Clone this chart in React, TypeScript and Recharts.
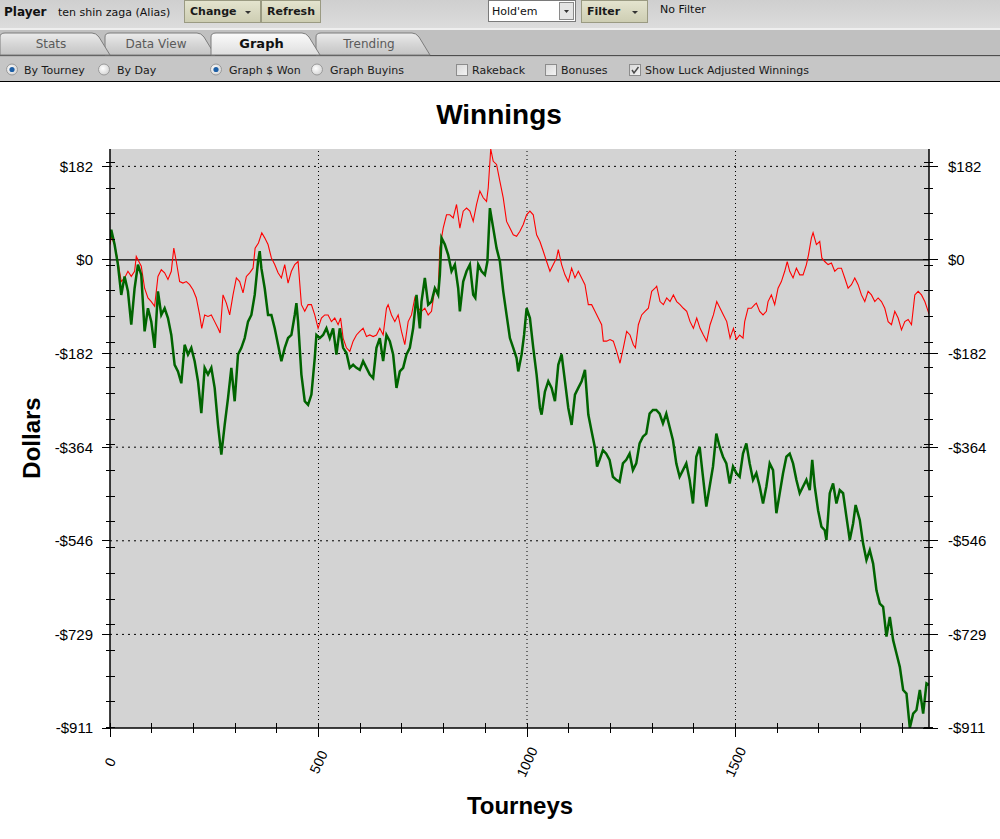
import React from 'react';
import { LineChart, Line, XAxis, YAxis, ReferenceLine, CartesianGrid } from 'recharts';

// [tourney, dollars] — luck adjusted winnings (green)
const luckAdjusted: [number, number][] = [
  [0, 40], [3, 59], [11, 30], [19, -9], [27, -68], [35, -32], [43, -61], [51, -126], [59, -55], [67, -9],
  [75, -29], [83, -139], [91, -94], [99, -120], [107, -171], [115, -61], [123, -107], [131, -94], [139, -113], [147, -146],
  [155, -204], [163, -217], [171, -240], [179, -165], [187, -184], [195, -171], [203, -197], [211, -236], [219, -298], [227, -210],
  [235, -223], [243, -210], [251, -249], [259, -321], [267, -379], [275, -321], [283, -269], [291, -210], [299, -275], [307, -184],
  [315, -171], [323, -152], [331, -120], [339, -107], [347, -68], [355, -3], [359, 17], [363, -16], [371, -55], [379, -107],
  [387, -107], [395, -133], [403, -165], [411, -197], [419, -171], [427, -152], [435, -146], [443, -107], [447, -84], [451, -120],
  [459, -223], [467, -275], [475, -282], [483, -262], [491, -191], [495, -146], [503, -152], [511, -146], [519, -133], [527, -152],
  [535, -133], [543, -184], [551, -133], [559, -171], [567, -181], [575, -210], [583, -204], [591, -210], [599, -214], [607, -197],
  [615, -210], [623, -223], [631, -230], [639, -171], [647, -152], [655, -197], [663, -146], [671, -158], [679, -184], [687, -249],
  [695, -217], [703, -210], [711, -184], [719, -171], [727, -133], [735, -68], [743, -133], [747, -81], [755, -35], [763, -87],
  [771, -81], [779, -55], [787, -68], [791, -29], [795, 43], [803, 30], [811, 10], [819, -22], [827, -9], [835, -55],
  [839, -100], [847, -42], [855, -22], [863, -9], [871, -68], [876, -74], [883, -9], [891, -22], [899, -29], [905, -3],
  [911, 101], [919, 62], [927, 23], [935, -3], [943, -61], [951, -107], [959, -152], [967, -171], [975, -191], [979, -217],
  [987, -184], [993, -146], [999, -94], [1007, -113], [1015, -171], [1023, -223], [1031, -288], [1035, -301], [1043, -256], [1051, -236],
  [1059, -249], [1067, -275], [1075, -204], [1083, -184], [1091, -236], [1099, -288], [1107, -321], [1115, -262], [1123, -249], [1131, -236],
  [1139, -214], [1147, -301], [1155, -334], [1163, -366], [1168, -402], [1174, -389], [1182, -370], [1190, -377], [1198, -389], [1206, -422],
  [1214, -428], [1222, -432], [1230, -396], [1238, -389], [1246, -377], [1254, -409], [1262, -396], [1270, -357], [1278, -344], [1286, -338],
  [1294, -299], [1302, -292], [1310, -292], [1318, -299], [1326, -318], [1334, -299], [1342, -325], [1350, -351], [1358, -396], [1366, -422],
  [1374, -409], [1382, -396], [1390, -428], [1398, -474], [1406, -383], [1414, -364], [1422, -422], [1430, -480], [1438, -441], [1446, -402],
  [1454, -338], [1462, -364], [1470, -383], [1478, -396], [1486, -435], [1494, -402], [1502, -415], [1510, -422], [1518, -377], [1526, -357],
  [1534, -396], [1542, -428], [1550, -415], [1558, -441], [1566, -474], [1574, -441], [1582, -396], [1590, -409], [1598, -493], [1606, -454],
  [1614, -415], [1622, -383], [1630, -377], [1638, -396], [1646, -428], [1654, -454], [1662, -441], [1670, -428], [1678, -448], [1684, -389],
  [1690, -441], [1698, -487], [1706, -519], [1714, -526], [1718, -545], [1726, -454], [1734, -435], [1742, -474], [1750, -448], [1758, -454],
  [1766, -500], [1774, -545], [1782, -513], [1788, -477], [1798, -506], [1806, -552], [1814, -584], [1822, -565], [1830, -591], [1838, -643],
  [1846, -669], [1854, -675], [1862, -733], [1870, -695], [1878, -740], [1886, -766], [1894, -792], [1902, -837], [1910, -844], [1918, -911],
  [1926, -883], [1934, -876], [1942, -837], [1950, -883], [1958, -824], [1964, -827],
];

const actualWinnings: [number, number][] = [
  [0, 30], [3, 46], [11, 30], [19, -3], [27, -42], [35, -35], [43, -22], [51, -32], [59, -22], [63, 7],
  [71, -6], [75, -12], [83, -55], [91, -74], [99, -81], [107, -90], [115, -32], [123, -19], [131, -25], [139, -38],
  [147, -22], [153, 23], [159, -3], [167, -42], [175, -45], [183, -42], [191, -48], [199, -58], [207, -74], [215, -107],
  [220, -133], [227, -107], [235, -110], [243, -107], [251, -120], [259, -133], [264, -142], [271, -68], [279, -84], [287, -107],
  [295, -68], [303, -35], [311, -42], [319, -64], [327, -32], [335, -25], [343, -16], [348, 23], [356, 33], [364, 53],
  [371, 43], [379, 30], [387, 4], [395, -9], [403, -25], [411, -35], [419, -9], [427, -45], [435, -22], [443, -9],
  [451, -3], [459, -87], [467, -100], [475, -87], [483, -87], [491, -107], [499, -133], [507, -113], [515, -107], [523, -107],
  [531, -120], [539, -113], [547, -126], [553, -113], [559, -152], [567, -171], [575, -178], [583, -158], [591, -146], [599, -139],
  [607, -133], [615, -149], [623, -146], [631, -149], [639, -146], [647, -133], [655, -146], [663, -94], [667, -87], [675, -107],
  [683, -120], [691, -107], [699, -139], [707, -165], [715, -120], [723, -107], [731, -74], [739, -94], [747, -100], [755, -94],
  [763, -107], [771, -100], [779, -55], [787, -61], [791, 23], [799, 62], [807, 88], [815, 88], [823, 82], [831, 108],
  [839, 62], [847, 95], [855, 101], [863, 95], [871, 75], [879, 108], [887, 134], [895, 121], [903, 114], [907, 140],
  [913, 216], [919, 192], [927, 186], [935, 153], [943, 121], [951, 75], [959, 62], [967, 49], [975, 46], [983, 56],
  [991, 69], [999, 88], [1007, 95], [1015, 88], [1023, 49], [1031, 36], [1039, 17], [1047, -3], [1055, -22], [1063, -9],
  [1071, 4], [1075, 20], [1083, -9], [1091, -29], [1099, -42], [1107, -16], [1115, -35], [1123, -22], [1131, -35], [1139, -48],
  [1147, -87], [1155, -87], [1163, -100], [1171, -113], [1179, -126], [1183, -158], [1191, -158], [1199, -155], [1207, -158], [1215, -178],
  [1223, -201], [1231, -171], [1239, -139], [1247, -146], [1255, -165], [1260, -171], [1267, -126], [1275, -107], [1283, -100], [1291, -94],
  [1299, -61], [1307, -55], [1311, -51], [1319, -81], [1327, -87], [1335, -74], [1343, -81], [1351, -68], [1359, -81], [1367, -87],
  [1375, -94], [1383, -100], [1391, -120], [1399, -133], [1407, -113], [1415, -133], [1423, -146], [1431, -158], [1439, -126], [1447, -107],
  [1455, -81], [1463, -94], [1471, -107], [1479, -120], [1487, -152], [1495, -133], [1502, -155], [1510, -146], [1518, -152], [1522, -120],
  [1530, -94], [1538, -94], [1546, -87], [1550, -84], [1558, -100], [1566, -107], [1574, -100], [1578, -81], [1586, -68], [1594, -87],
  [1602, -55], [1610, -42], [1618, -22], [1624, -3], [1630, -22], [1638, -35], [1646, -16], [1654, -29], [1662, -29], [1670, -9],
  [1675, 10], [1682, 43], [1686, 53], [1694, 30], [1702, 36], [1707, 4], [1714, -3], [1722, -9], [1730, -6], [1738, -22],
  [1746, -16], [1754, -16], [1762, -35], [1770, -55], [1778, -48], [1786, -35], [1794, -48], [1802, -68], [1810, -81], [1818, -61],
  [1826, -68], [1834, -81], [1842, -74], [1850, -81], [1858, -94], [1866, -120], [1874, -126], [1882, -100], [1890, -113], [1898, -136],
  [1906, -120], [1914, -116], [1922, -126], [1930, -68], [1938, -61], [1946, -68], [1954, -81], [1962, -100], [1964, -105],
];

const yMajorValues = [182.2, 0, -182.2, -364.4, -546.6, -728.8, -911];
const yMajorLabels = ['$182', '$0', '-$182', '-$364', '-$546', '-$729', '-$911'];
const yMinorValues = [190, 140, 90, 40, -10, -60, -110, -160, -210, -260, -310, -360, -410, -460, -510, -560, -610, -660, -710, -760, -810, -860, -910];
const yGridValues = [182.2, -182.2, -364.4, -546.6, -728.8];
const xTickValues = [0, 100, 200, 300, 400, 500, 600, 700, 800, 900, 1000, 1100, 1200, 1300, 1400, 1500, 1600, 1700, 1800, 1900];
const xLabelValues = [0, 500, 1000, 1500];
const xLabels = ['0', '500', '1000', '1500'];
const xGridValues = [500, 1000, 1500];
const xMax = 1964;

const greenData = luckAdjusted.map(([t, v]) => ({ t, v }));
const redData = actualWinnings.map(([t, v]) => ({ t, v }));
const allVals = [...luckAdjusted, ...actualWinnings].map((p) => p[1]);
const yDomain: [number, number] = [Math.min(...allVals), Math.max(...allVals)];

const AX_FONT = 'Liberation Sans, Arial, sans-serif';

const LeftTick = (props: any) => {
  const { x, y, payload } = props;
  const i = yMajorValues.indexOf(payload.value);
  if (i >= 0) {
    return (
      <g>
        <line x1={x + 9} x2={x + 17} y1={y} y2={y} stroke="#000" shapeRendering="crispEdges" />
        <text x={x} y={y} dy="0.36em" textAnchor="end" fontSize={15} fontFamily={AX_FONT} fill="#000">{yMajorLabels[i]}</text>
      </g>
    );
  }
  return <line x1={x + 13} x2={x + 22} y1={y} y2={y} stroke="#000" shapeRendering="crispEdges" />;
};

const RightTick = (props: any) => {
  const { x, y, payload } = props;
  const i = yMajorValues.indexOf(payload.value);
  if (i >= 0) {
    return (
      <g>
        <line x1={x - 25} x2={x - 10} y1={y} y2={y} stroke="#000" shapeRendering="crispEdges" />
        <text x={x} y={y} dy="0.36em" textAnchor="start" fontSize={15} fontFamily={AX_FONT} fill="#000">{yMajorLabels[i]}</text>
      </g>
    );
  }
  return <line x1={x - 24} x2={x - 15} y1={y} y2={y} stroke="#000" shapeRendering="crispEdges" />;
};

const BottomTick = (props: any) => {
  const { x, y, payload } = props;
  const i = xLabelValues.indexOf(payload.value);
  if (i >= 0) {
    return (
      <g>
        <line x1={x} x2={x} y1={y - 39} y2={y - 25} stroke="#000" shapeRendering="crispEdges" />
        <text x={x} y={y} textAnchor="middle" dominantBaseline="central" fontSize={14} fontFamily={AX_FONT} fill="#000" transform={`rotate(-65 ${x} ${y})`}>{xLabels[i]}</text>
      </g>
    );
  }
  return <line x1={x} x2={x} y1={y - 39} y2={y - 29} stroke="#000" shapeRendering="crispEdges" />;
};

const TopTick = (props: any) => {
  const { x, y } = props;
  return <line x1={x} x2={x} y1={y} y2={y + 6} stroke="#000" shapeRendering="crispEdges" />;
};

const UI_FONT = 'DejaVu Sans, Verdana, sans-serif';

const Radio = ({ cx, cy, on }: { cx: number; cy: number; on: boolean }) => (
  <g>
    <circle cx={cx} cy={cy} r={5.5} fill="url(#radioFill)" stroke="#9a9a9a" />
    {on && <circle cx={cx} cy={cy} r={2.6} fill="#1d5fa6" />}
  </g>
);

const Check = ({ x, y, on }: { x: number; y: number; on: boolean }) => (
  <g>
    <rect x={x + 0.5} y={y + 0.5} width={11} height={11} fill="url(#chkFill)" stroke="#8c8c8c" />
    {on && <path d={`M${x + 3} ${y + 6} L${x + 5} ${y + 9} L${x + 9.5} ${y + 3}`} stroke="#4a4a4a" strokeWidth={1.5} fill="none" />}
  </g>
);

const Button = ({ x, w, label, arrow }: { x: number; w: number; label: string; arrow: boolean }) => (
  <g>
    <rect x={x + 0.5} y={0.5} width={w} height={22} fill="url(#btnFill)" stroke="#9a9a82" />
    <text x={x + 6} y={15} fontSize={11} fontWeight="bold" fontFamily={UI_FONT} fill="#1a1a1a">{label}</text>
    {arrow && <path d={`M${x + w - 15} 11 L${x + w - 9} 11 L${x + w - 12} 14 Z`} fill="#333" />}
  </g>
);

const Tab = ({ x0, x1, label, active }: { x0: number; x1: number; label: string; active: boolean }) => (
  <g>
    <path d={`M${x0} 55 L${x0} 37 Q${x0} 33 ${x0 + 5} 33 L${x1 - 18} 33 Q${x1 - 14} 33 ${x1 - 11} 37 L${x1} 55 Z`}
      fill={active ? 'url(#tabActive)' : 'url(#tabFill)'} stroke="#7c7c7c" />
    <text x={(x0 + x1) / 2 - 4} y={48} textAnchor="middle" fontSize={active ? 13 : 12} fontWeight={active ? 'bold' : 'normal'}
      fontFamily={UI_FONT} fill={active ? '#111' : '#5a5a5a'}>{label}</text>
  </g>
);

const Toolbar = () => (
  <svg width={1000} height={82} style={{ position: 'absolute', left: 0, top: 0 }}>
    <defs>
      <linearGradient id="row1" x1="0" y1="0" x2="0" y2="1">
        <stop offset="0" stopColor="#cfcfcf" />
        <stop offset="1" stopColor="#dcdcdc" />
      </linearGradient>
      <linearGradient id="btnFill" x1="0" y1="0" x2="0" y2="1">
        <stop offset="0" stopColor="#e4e4cf" />
        <stop offset="1" stopColor="#cdcdb2" />
      </linearGradient>
      <linearGradient id="tabFill" x1="0" y1="0" x2="0" y2="1">
        <stop offset="0" stopColor="#ececec" />
        <stop offset="0.5" stopColor="#d6d6d6" />
        <stop offset="1" stopColor="#c4c4c4" />
      </linearGradient>
      <linearGradient id="tabActive" x1="0" y1="0" x2="0" y2="1">
        <stop offset="0" stopColor="#fbfbfb" />
        <stop offset="1" stopColor="#dedede" />
      </linearGradient>
      <radialGradient id="radioFill" cx="0.4" cy="0.4" r="0.7">
        <stop offset="0" stopColor="#ffffff" />
        <stop offset="1" stopColor="#cfcfcf" />
      </radialGradient>
      <linearGradient id="chkFill" x1="0" y1="0" x2="1" y2="1">
        <stop offset="0" stopColor="#d8d8d8" />
        <stop offset="1" stopColor="#f4f4f4" />
      </linearGradient>
    </defs>
    <rect x={0} y={0} width={1000} height={28} fill="url(#row1)" />
    <rect x={0} y={28} width={1000} height={2} fill="#efefef" />
    <rect x={0} y={30} width={1000} height={25} fill="#c0c0c0" />
    <rect x={0} y={55} width={1000} height={1.5} fill="#4e4e4e" />
    <rect x={0} y={56.5} width={1000} height={24.5} fill="#c6c6c6" />
    <rect x={0} y={81} width={1000} height={1} fill="#000" />

    <text x={4} y={16} fontSize={12} fontWeight="bold" fontFamily={UI_FONT} fill="#111">Player</text>
    <text x={58} y={16} fontSize={11} fontFamily={UI_FONT} fill="#111">ten shin zaga (Alias)</text>
    <Button x={184} w={76} label="Change" arrow={true} />
    <Button x={261} w={59} label="Refresh" arrow={false} />
    <rect x={488.5} y={0.5} width={87} height={21} fill="#fff" stroke="#7a7a7a" />
    <text x={492} y={15} fontSize={11} fontFamily={UI_FONT} fill="#111">Hold'em</text>
    <rect x={559.5} y={2.5} width={14} height={17} fill="#e4e4e4" stroke="#8a8a8a" />
    <path d="M564 10 L569 10 L566.5 13 Z" fill="#333" />
    <Button x={581} w={66} label="Filter" arrow={true} />
    <text x={660} y={13} fontSize={11} fontFamily={UI_FONT} fill="#111">No Filter</text>

    <Tab x0={316} x1={430} label="Trending" active={false} />
    <Tab x0={105} x1={215} label="Data View" active={false} />
    <Tab x0={0} x1={110} label="Stats" active={false} />
    <Tab x0={211} x1={320} label="Graph" active={true} />

    <Radio cx={12} cy={69.5} on={true} />
    <text x={24} y={74} fontSize={11} fontFamily={UI_FONT} fill="#1a1a1a">By Tourney</text>
    <Radio cx={104} cy={69.5} on={false} />
    <text x={117} y={74} fontSize={11} fontFamily={UI_FONT} fill="#1a1a1a">By Day</text>
    <Radio cx={216} cy={69.5} on={true} />
    <text x={229} y={74} fontSize={11} fontFamily={UI_FONT} fill="#1a1a1a">Graph $ Won</text>
    <Radio cx={317} cy={69.5} on={false} />
    <text x={330} y={74} fontSize={11} fontFamily={UI_FONT} fill="#1a1a1a">Graph Buyins</text>
    <Check x={456} y={64} on={false} />
    <text x={472} y={74} fontSize={11} fontFamily={UI_FONT} fill="#1a1a1a">Rakeback</text>
    <Check x={545} y={64} on={false} />
    <text x={561} y={74} fontSize={11} fontFamily={UI_FONT} fill="#1a1a1a">Bonuses</text>
    <Check x={629} y={64} on={true} />
    <text x={645} y={74} fontSize={11} fontFamily={UI_FONT} fill="#1a1a1a">Show Luck Adjusted Winnings</text>
  </svg>
);

const Titles = () => (
  <svg width={1000} height={839} style={{ position: 'absolute', left: 0, top: 0, pointerEvents: 'none' }}>
    <text x={499} y={124} textAnchor="middle" fontSize={28} fontWeight="bold" fontFamily={AX_FONT} fill="#000">Winnings</text>
    <text x={40} y={438} textAnchor="middle" fontSize={24} fontWeight="bold" fontFamily={AX_FONT} fill="#000" transform="rotate(-90 40 438)">Dollars</text>
    <text x={520} y={814} textAnchor="middle" fontSize={24} fontWeight="bold" fontFamily={AX_FONT} fill="#000">Tourneys</text>
  </svg>
);

export default function App() {
  return (
    <div style={{ position: 'absolute', left: 0, top: 0, width: 1000, height: 839, background: '#fff', overflow: 'hidden' }}>
      <Toolbar />
      <Titles />
      <div style={{ position: 'absolute', left: 0, top: 82 }}>
        <LineChart width={1000} height={757} margin={{ top: 67, right: 11, bottom: 51, left: 50 }}>
          <CartesianGrid xAxisId="bottom" yAxisId="left" horizontal={false} vertical={false} fill="#d3d3d3" stroke="none" />
          <XAxis xAxisId="bottom" dataKey="t" type="number" domain={[0, xMax]} allowDataOverflow ticks={xTickValues} interval={0}
            height={60} tickSize={9} tickMargin={25} tickLine={false} tick={<BottomTick />} axisLine={{ stroke: '#000', strokeWidth: 1.5 }} />
          <XAxis xAxisId="top" orientation="top" dataKey="t" type="number" domain={[0, xMax]} allowDataOverflow ticks={xTickValues} interval={0}
            height={0} tickSize={0} tickMargin={0} tickLine={false} tick={<TopTick />} axisLine={{ stroke: '#000', strokeWidth: 1.5 }} />
          <YAxis yAxisId="left" type="number" domain={yDomain} allowDataOverflow ticks={[...yMajorValues, ...yMinorValues]} interval={0}
            width={60} tickSize={8} tickMargin={9} tickLine={false} tick={<LeftTick />} axisLine={{ stroke: '#000', strokeWidth: 1.5 }} />
          <YAxis yAxisId="right" orientation="right" type="number" domain={yDomain} allowDataOverflow ticks={[...yMajorValues, ...yMinorValues]} interval={0}
            width={60} tickSize={9} tickMargin={10} tickLine={false} tick={<RightTick />} axisLine={{ stroke: '#000', strokeWidth: 1.5 }} />
          {yGridValues.map((v) => (
            <ReferenceLine key={'h' + v} xAxisId="bottom" yAxisId="left" y={v} stroke="#000" strokeDasharray="2 4" />
          ))}
          {xGridValues.map((v) => (
            <ReferenceLine key={'v' + v} xAxisId="bottom" yAxisId="left" x={v} stroke="#000" strokeDasharray="1 3" />
          ))}
          <ReferenceLine xAxisId="bottom" yAxisId="left" y={0} stroke="#000" strokeWidth={1.2} />
          <Line xAxisId="bottom" yAxisId="left" data={redData} dataKey="v" type="linear" stroke="#ff0000" strokeWidth={1.1}
            dot={false} activeDot={false} isAnimationActive={false} />
          <Line xAxisId="bottom" yAxisId="left" data={greenData} dataKey="v" type="linear" stroke="#006400" strokeWidth={2.5}
            dot={false} activeDot={false} isAnimationActive={false} />
        </LineChart>
      </div>
    </div>
  );
}
